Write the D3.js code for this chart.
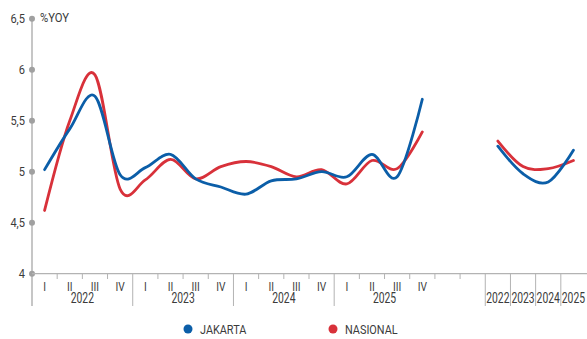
<!DOCTYPE html>
<html>
<head>
<meta charset="utf-8">
<script src="https://cdn.jsdelivr.net/npm/d3@7"></script>
<style>
  html, body { margin: 0; padding: 0; background: #fff; }
  svg { display: block; font-family: Roboto, "Noto Sans", sans-serif; }
</style>
</head>
<body>
<svg id="chart" width="587" height="339"></svg>
<script>
// Quarterly and annual inflation, % year on year
const years = ["2022", "2023", "2024", "2025"];
const quarters = ["I", "II", "III", "IV"];
const gapSlots = ["gap1", "gap2"];

const jakartaQuarterly = [5.02, 5.42, 5.74, 4.97, 5.04, 5.17, 4.93, 4.85, 4.78, 4.91, 4.93, 5.00, 4.95, 5.17, 4.95, 5.71];
const nasionalQuarterly = [4.62, 5.50, 5.95, 4.83, 4.92, 5.12, 4.93, 5.05, 5.10, 5.05, 4.95, 5.02, 4.88, 5.11, 5.03, 5.39];
const jakartaAnnual = [5.25, 4.98, 4.90, 5.21];
const nasionalAnnual = [5.30, 5.05, 5.03, 5.11];

const yTicks = [4, 4.5, 5, 5.5, 6, 6.5];
const seriesNames = ["JAKARTA", "NASIONAL"];
const seriesColors = ["#0b5ea8", "#d8313a"];

const quarterKeys = years.flatMap(y => quarters.map(q => y + "-" + q));
const annualKeys = years.map(y => "Y" + y);
const allKeys = [...quarterKeys, ...gapSlots, ...annualKeys];

const svg = d3.select("#chart");
const textColor = "#3b3b3b";
const axisColor = "#b3b3b3";

const x = d3.scaleBand().domain(allKeys).range([32, 586]).padding(0);
const y = d3.scaleLinear().domain([4, 6.5]).range([273.7, 18.7]);
const cx = k => x(k) + x.bandwidth() / 2;

// condensed-looking text; baseline is "central" unless given
function label(g, str, px, py, size, anchor, sx, baseline) {
  return g.append("text")
    .attr("transform", `translate(${px},${py}) scale(${sx},1)`)
    .attr("text-anchor", anchor)
    .attr("dominant-baseline", baseline || "central")
    .attr("font-size", size)
    .attr("fill", textColor)
    .text(str);
}

const axes = svg.append("g");

// y axis line with dot markers
axes.append("line")
  .attr("x1", 32).attr("x2", 32)
  .attr("y1", y(6.5)).attr("y2", 306)
  .attr("stroke", axisColor).attr("stroke-width", 1.5);
yTicks.forEach(t => {
  axes.append("circle").attr("cx", 32).attr("cy", y(t)).attr("r", 3).attr("fill", "#a0a0a0");
  label(axes, String(t).replace(".", ","), 25, y(t), 13.5, "end", 0.82);
});
label(axes, "%YOY", 40, 17.5, 12.5, "start", 0.9);

// x axis baseline
axes.append("line")
  .attr("x1", 32).attr("x2", 587)
  .attr("y1", y(4)).attr("y2", y(4))
  .attr("stroke", axisColor).attr("stroke-width", 1.2);

// band boundary ticks: long at year / annual boundaries, short otherwise
allKeys.forEach((k, i) => {
  if (i === 0) return;
  const bx = x(k);
  const long = (i < 16 && i % 4 === 0) || i >= 18;
  axes.append("line")
    .attr("x1", bx).attr("x2", bx)
    .attr("y1", y(4)).attr("y2", long ? 306 : 279)
    .attr("stroke", axisColor).attr("stroke-width", 1);
});

// quarter and year labels
quarterKeys.forEach(k => {
  label(axes, k.split("-")[1], cx(k), 290.5, 12, "middle", 0.85, "alphabetic");
});
years.forEach((yr, i) => {
  const mid = (x(quarterKeys[i * 4]) + x(quarterKeys[i * 4 + 3]) + x.bandwidth()) / 2;
  label(axes, yr, mid, 303, 14, "middle", 0.74, "alphabetic");
});
annualKeys.forEach((k, i) => {
  label(axes, years[i], cx(k), 303, 14, "middle", 0.74, "alphabetic");
});

// series lines
const line = d3.line()
  .x(d => cx(d.key))
  .y(d => y(d.value))
  .curve(d3.curveCardinal.tension(0));

const series = [
  { name: seriesNames[1], color: seriesColors[1], q: nasionalQuarterly, a: nasionalAnnual },
  { name: seriesNames[0], color: seriesColors[0], q: jakartaQuarterly, a: jakartaAnnual }
];

const plot = svg.append("g");
series.forEach(s => {
  const qData = s.q.map((v, i) => ({ key: quarterKeys[i], value: v }));
  const aData = s.a.map((v, i) => ({ key: annualKeys[i], value: v }));
  [qData, aData].forEach(data => {
    plot.append("path")
      .datum(data)
      .attr("d", line)
      .attr("fill", "none")
      .attr("stroke", s.color)
      .attr("stroke-width", 2.8)
      .attr("stroke-linecap", "round")
      .attr("stroke-linejoin", "round");
  });
});

// legend
const legend = svg.append("g");
const legendX = [188, 333];
seriesNames.forEach((n, i) => {
  legend.append("circle").attr("cx", legendX[i]).attr("cy", 329).attr("r", 4.5).attr("fill", seriesColors[i]);
  label(legend, n, legendX[i] + 12, 329.5, 12.5, "start", 0.87);
});
</script>
</body>
</html>
